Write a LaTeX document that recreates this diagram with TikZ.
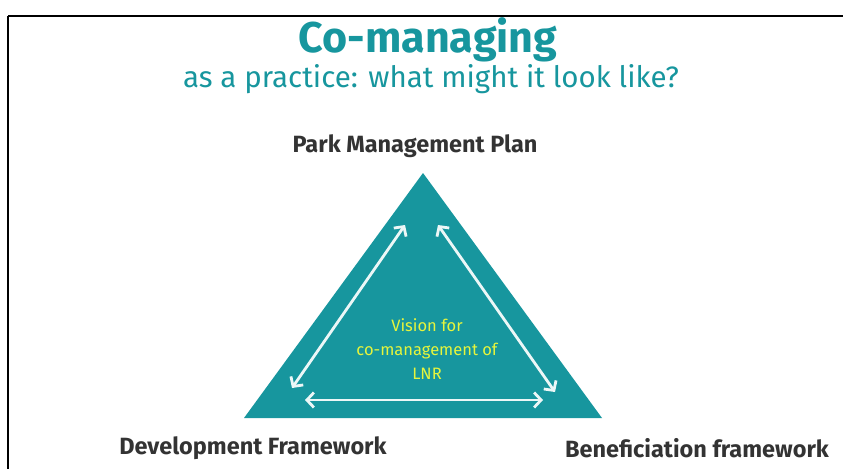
\documentclass[tikz,border=0pt]{standalone}
\usepackage{fontspec}
\setmainfont{Fira Sans}
\usetikzlibrary{arrows.meta}
\definecolor{teal}{HTML}{17969E}
\definecolor{vision}{HTML}{E6F53C}
\definecolor{label}{HTML}{333333}
\begin{document}
\begin{tikzpicture}[
  x=1pt, y=-1pt,
  corner/.style={font=\bfseries\fontsize{23.5}{27}\selectfont, text=label},
  link/.style={draw=white!92!teal, line width=2.8pt, {Straight Barb[length=7pt,width=15pt]}-{Straight Barb[length=7pt,width=15pt]}}
]
  \useasboundingbox (0,0) rectangle (843,469);
  \draw[line width=2.5pt] (8,16) -- (843,16);
  \draw[line width=1.3pt] (8,16) -- (8,469);

  \node[font=\bfseries\fontsize{43}{46}\selectfont, text=teal] (title) at (428,40) {Co-managing};
  \node[font=\fontsize{29.5}{33}\selectfont, text=teal] (subtitle) at (431,79) {as a practice: what might it look like?};

  % the triangle
  \coordinate (apex) at (423,173);
  \coordinate (baseL) at (244,418);
  \coordinate (baseR) at (602,418);
  \fill[teal] (apex) -- (baseR) -- (baseL) -- cycle;

  \node[corner] (plan) at (415,146) {Park Management Plan};
  \node[corner] (develop) at (253,448) {Development Framework};
  \node[corner] (benefit) at (697,448) {Beneficiation framework};

  \node[align=center, text=vision, font=\fontsize{16.5}{24}\selectfont] (vision) at (427,349) {Vision for\\co-management of\\LNR};

  \coordinate (l1) at (292,388);
  \coordinate (l2) at (405,225);
  \coordinate (r1) at (438,225);
  \coordinate (r2) at (555,392);
  \coordinate (b1) at (305,400);
  \coordinate (b2) at (543,400);
  \draw[link] (l1) -- (l2);
  \draw[link] (r1) -- (r2);
  \draw[link] (b1) -- (b2);
\end{tikzpicture}
\end{document}
